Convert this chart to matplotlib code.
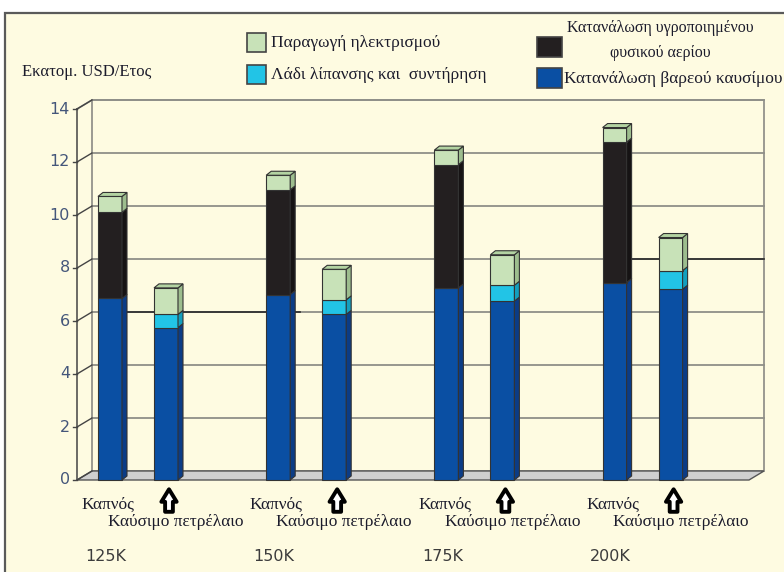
import numpy as np
import matplotlib.pyplot as plt
from matplotlib.patches import Polygon, Rectangle

groups = ['125K', '150K', '175K', '200K']
bar_names = ['Καπνός', 'Καύσιμο πετρέλαιο']

# left bar of each pair (Καπνός), bottom to top
smoke_hfo = [6.85, 7.0, 7.25, 7.45]
smoke_lng = [3.25, 3.95, 4.65, 5.3]
smoke_power = [0.6, 0.55, 0.55, 0.55]

# right bar of each pair (Καύσιμο πετρέλαιο), bottom to top
oil_hfo = [5.75, 6.25, 6.75, 7.2]
oil_lube = [0.5, 0.55, 0.6, 0.7]
oil_power = [1.0, 1.15, 1.15, 1.25]

yticks = [0, 2, 4, 6, 8, 10, 12, 14]

legend_power = 'Παραγωγή ηλεκτρισμού'
legend_lube = 'Λάδι λίπανσης και  συντήρηση'
legend_lng = ['Κατανάλωση υγροποιημένου', 'φυσικού αερίου']
legend_hfo = 'Κατανάλωση βαρεού καυσίμου'
ylabel = 'Εκατομ. USD/Ετος'

# face colours: front, side, top
C_HFO = ('#0a4fa3', '#0b3c86', '#2e69c4')
C_LNG = ('#231f20', '#161314', '#3a3536')
C_LUBE = ('#22c4e6', '#139fbe', '#5fd6ef')
C_POWER = ('#c8e2b8', '#9dbd8e', '#b3d3a2')
BG = '#fefbe1'
SERIF = 'Liberation Serif'
TXT = '#1c1c2c'

W, H = 784, 572
fig = plt.figure(figsize=(W / 100, H / 100), dpi=100)
fig.patch.set_facecolor('white')


def fx(px):
    return px / W


def fy(py):
    return 1 - py / H


# cream panel with dark frame, kept under the axes
fig.patches.append(Rectangle((fx(5), fy(900)), 2, fy(13) - fy(900),
                             transform=fig.transFigure, facecolor=BG,
                             edgecolor='#5a5a5a', lw=1.6, zorder=-5))

ax = fig.add_axes([0, 0, 1, 1])
ax.set_zorder(1)
ax.set_facecolor('none')
ax.axis('off')
# group spacing 168 px, 26.5 px per unit, zero at y=480 px
GX, GY, X0, Y0 = 168.2, 26.5, 138, 480
ax.set_xlim(-X0 / GX, (W - X0) / GX)
ax.set_ylim((Y0 - H) / GY, Y0 / GY)

DXW, DYW = 15 / GX, 9 / GY       # wall depth
DXB, DYB = 5 / GX, 4 / GY        # bar depth
BW = 24 / GX
PAIR = 28 / GX
x_front = (77 - X0) / GX
x_back = x_front + DXW
x_right = (764 - X0) / GX
ymax = yticks[-1]

# back wall, side walls and floor
ax.add_patch(Polygon([(x_back, DYW), (x_right, DYW), (x_right, ymax + DYW),
                      (x_back, ymax + DYW)], closed=True, facecolor=BG,
                     edgecolor='#8a8a84', lw=1.2, zorder=1))
ax.plot([x_front, x_back], [ymax, ymax + DYW], color='#8a8a84', lw=1.2, zorder=2)
ax.add_patch(Polygon([(x_front, 0), (x_right - DXW, 0), (x_right, DYW),
                      (x_back, DYW)], closed=True, facecolor='#cfcfcf',
                     edgecolor='#555555', lw=1.0, zorder=2))

for v in yticks:
    if v > 0:
        ax.plot([x_back, x_right], [v + DYW, v + DYW], color='#8f8f88', lw=1.3, zorder=1.5)
    ax.plot([x_front, x_back], [v, v + DYW], color='#444444', lw=1.0, zorder=2)
    ax.plot([x_front - 4 / GX, x_front], [v, v], color='#444444', lw=1.0, zorder=2)
    ax.text(x_front - 7 / GX, v, str(v), ha='right', va='center',
            fontsize=11.5, color='#44567a', family='DejaVu Sans', zorder=3)
ax.plot([x_front, x_front], [0, ymax], color='#444444', lw=1.1, zorder=3)

# darker gridline runs
ax.plot([(110 - X0) / GX, (300 - X0) / GX], [6 + DYW, 6 + DYW], color='#2a2a2a', lw=1.2, zorder=1.6)
ax.plot([(632 - X0) / GX, x_right], [8 + DYW, 8 + DYW], color='#2a2a2a', lw=1.2, zorder=1.6)


def draw_bar(x, heights, colors):
    bottom = 0.0
    for i, (h, c) in enumerate(zip(heights, colors)):
        ax.bar(x, h, bottom=bottom, width=BW, color=c[0], edgecolor='#333333',
               lw=0.8, zorder=4)
        xr = x + BW / 2
        ax.add_patch(Polygon([(xr, bottom), (xr + DXB, bottom + DYB),
                              (xr + DXB, bottom + h + DYB), (xr, bottom + h)],
                             closed=True, facecolor=c[1], edgecolor='#333333',
                             lw=0.8, zorder=4))
        bottom += h
        if i == len(heights) - 1:
            xl = x - BW / 2
            ax.add_patch(Polygon([(xl, bottom), (xl + DXB, bottom + DYB),
                                  (xr + DXB, bottom + DYB), (xr, bottom)],
                                 closed=True, facecolor=c[2], edgecolor='#333333',
                                 lw=0.8, zorder=4))


xs = np.arange(len(groups))
for i, g in enumerate(groups):
    xs_smoke = xs[i] - PAIR
    xs_oil = xs[i] + PAIR
    draw_bar(xs_smoke, [smoke_hfo[i], smoke_lng[i], smoke_power[i]], [C_HFO, C_LNG, C_POWER])
    draw_bar(xs_oil, [oil_hfo[i], oil_lube[i], oil_power[i]], [C_HFO, C_LUBE, C_POWER])

    ax.text(xs_smoke - 2 / GX, -0.92, bar_names[0], ha='center', va='center',
            fontsize=12.5, family=SERIF, color=TXT)
    ax.text(xs_oil + 10 / GX, -1.6, bar_names[1], ha='center', va='center',
            fontsize=12.5, family=SERIF, color=TXT)
    ax.annotate('', xy=(xs_oil + 3 / GX, -0.35), xytext=(xs_oil + 3 / GX, -1.2),
                arrowprops=dict(arrowstyle='simple,head_length=0.45,head_width=0.55,tail_width=0.28',
                                mutation_scale=20, fc='white', ec='black', lw=2.8,
                                shrinkA=0, shrinkB=0), zorder=5)
    ax.text(xs_smoke - 4 / GX, -2.88, g, ha='center', va='center',
            fontsize=11.5, family='DejaVu Sans', color='#3c3c3c')


# legend
def legend_box(px, py, w, h, color):
    fig.patches.append(Rectangle((fx(px), fy(py + h)), w / W, h / H,
                                 transform=fig.transFigure, facecolor=color,
                                 edgecolor='#444444', lw=1.2, zorder=5))


legend_box(247, 33, 19, 19, C_POWER[0])
legend_box(247, 65, 19, 19, C_LUBE[0])
legend_box(537, 37, 25, 20, C_LNG[0])
legend_box(537, 68, 25, 20, C_HFO[0])
fig.text(fx(271), fy(43), legend_power, ha='left', va='center', fontsize=12.5,
         family=SERIF, color=TXT)
fig.text(fx(271), fy(75), legend_lube, ha='left', va='center', fontsize=12.5,
         family=SERIF, color=TXT)
fig.text(fx(660), fy(28), legend_lng[0], ha='center', va='center', fontsize=11.5,
         family=SERIF, color=TXT)
fig.text(fx(660), fy(53), legend_lng[1], ha='center', va='center', fontsize=11.5,
         family=SERIF, color=TXT)
fig.text(fx(564), fy(79), legend_hfo, ha='left', va='center', fontsize=12.5,
         family=SERIF, color=TXT)
fig.text(fx(22), fy(72), ylabel, ha='left', va='center', fontsize=12,
         family=SERIF, color=TXT)

fig.savefig('out.png', dpi=100, facecolor=fig.get_facecolor())
